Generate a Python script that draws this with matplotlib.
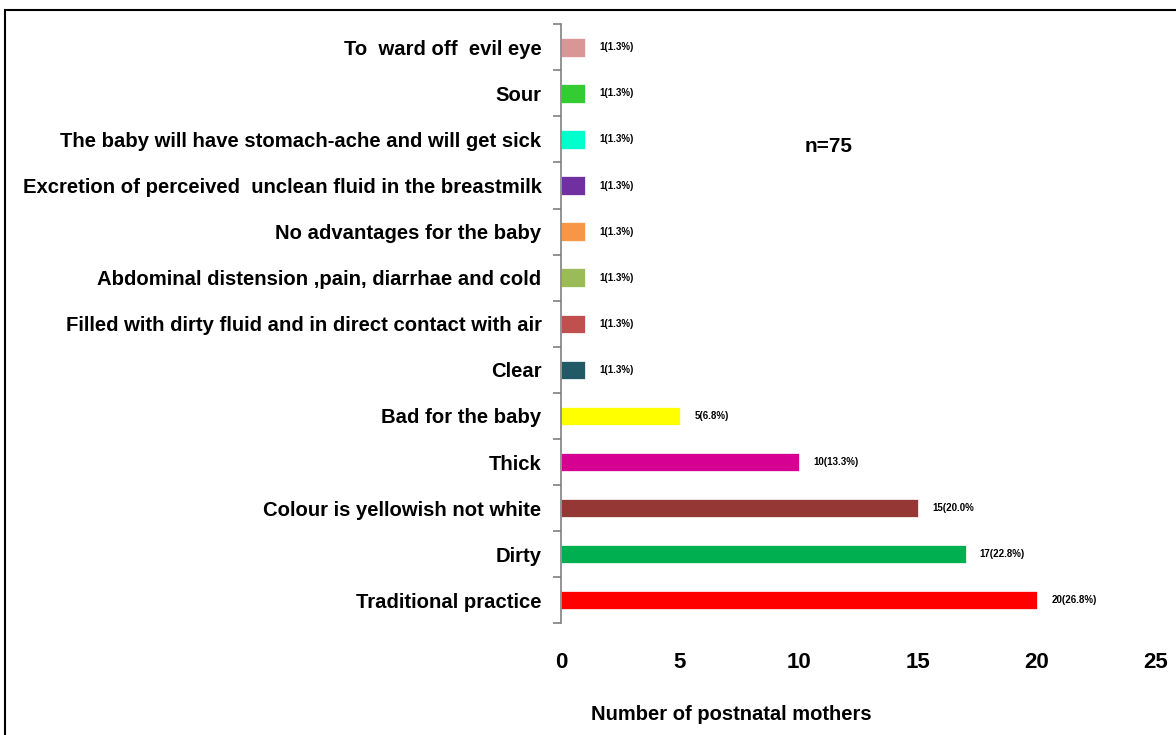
import matplotlib.pyplot as plt
from matplotlib.patches import Rectangle
from matplotlib.ticker import FixedLocator

plt.rcParams['font.family'] = ['Liberation Sans', 'DejaVu Sans']

# bottom to top
categories = [
    "Traditional practice",
    "Dirty",
    "Colour is yellowish not white",
    "Thick",
    "Bad for the baby",
    "Clear",
    "Filled with dirty fluid and in direct contact with air",
    "Abdominal distension ,pain, diarrhae and cold",
    "No advantages for the baby",
    "Excretion of perceived  unclean fluid in the breastmilk",
    "The baby will have stomach-ache and will get sick",
    "Sour",
    "To  ward off  evil eye",
]
counts = [20, 17, 15, 10, 5, 1, 1, 1, 1, 1, 1, 1, 1]
labels = ["20(26.8%)", "17(22.8%)", "15(20.0%", "10(13.3%)", "5(6.8%)",
          "1(1.3%)", "1(1.3%)", "1(1.3%)", "1(1.3%)", "1(1.3%)", "1(1.3%)",
          "1(1.3%)", "1(1.3%)"]
colors = ["#FF0000", "#00B050", "#953735", "#D60093", "#FFFF00", "#215967",
          "#C0504D", "#9BBB59", "#F79646", "#7030A0", "#00FFCC", "#33CC33",
          "#D99694"]

fig = plt.figure(figsize=(11.76, 7.35), dpi=100)
ax = fig.add_axes([0.477, 0.152, 0.506, 0.815])

y = range(len(categories))
ax.barh(y, counts, height=0.4, color=colors, edgecolor="white", linewidth=0.5)
for yi, c, lab in zip(y, counts, labels):
    ax.text(c + 0.6, yi, lab, va="center", ha="left", fontsize=7, fontweight="bold")

ax.set_xlim(0, 25)
ax.set_ylim(-0.5, len(categories) - 0.5)
ax.set_yticks(list(y))
ax.set_yticklabels(categories, fontsize=14.6, fontweight="bold")
ax.yaxis.set_minor_locator(FixedLocator([i - 0.5 for i in range(len(categories) + 1)]))
ax.tick_params(axis="y", which="major", length=0, pad=14)
ax.tick_params(axis="y", which="minor", length=6, color="#808080", width=1.2)

ax.set_xticks([0, 5, 10, 15, 20, 25])
ax.tick_params(axis="x", length=0, labelsize=16, pad=21)
for t in ax.get_xticklabels():
    t.set_fontweight("bold")
ax.set_xlabel("Number of postnatal mothers", fontsize=14.5, fontweight="bold")
ax.xaxis.set_label_coords(0.286, -0.137)

for s in ["top", "right", "bottom"]:
    ax.spines[s].set_visible(False)
ax.spines["left"].set_color("#808080")
ax.spines["left"].set_linewidth(1.2)

fig.text(0.705, 0.80, "n=75", fontsize=15, fontweight="bold", ha="center", va="center")

fig.patches.append(Rectangle((0.004, -0.01), 1.1, 0.997, transform=fig.transFigure,
                             fill=False, edgecolor="black", linewidth=1.5))

fig.savefig("out.png", dpi=100)
